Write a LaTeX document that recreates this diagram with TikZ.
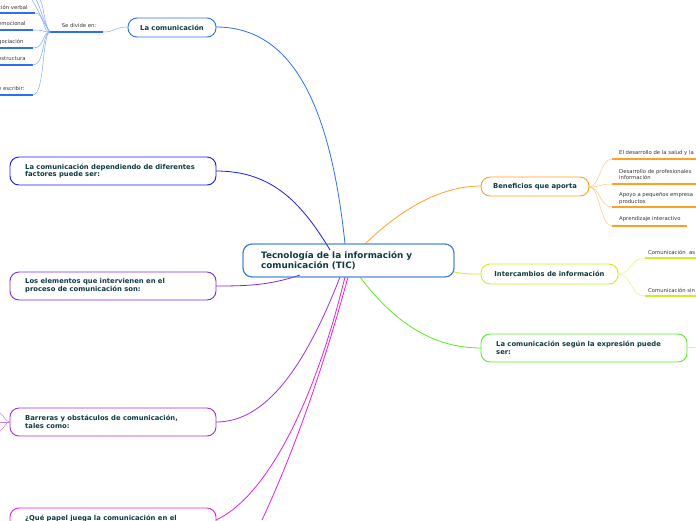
\documentclass[tikz,border=0pt]{standalone}
\usepackage{fontspec}
\setmainfont{DejaVu Sans}
\definecolor{navy}{HTML}{0E3B43}
\definecolor{cA}{HTML}{2E6FF0}
\definecolor{cB}{HTML}{1A1AEE}
\definecolor{cC}{HTML}{7A2BE0}
\definecolor{cD}{HTML}{A030E0}
\definecolor{cE}{HTML}{E020E0}
\definecolor{cF}{HTML}{FFA020}
\definecolor{cG}{HTML}{CCEE22}
\definecolor{cH}{HTML}{55EE22}
\definecolor{cI}{HTML}{3B7DD8}
\begin{document}
\begin{tikzpicture}[x=1pt,y=-1pt,
  box/.style={draw=#1,line width=0.9pt,rounded corners=9pt,fill=white,inner sep=0pt},
  btxt/.style={font=\fontsize{6.8}{7.8}\selectfont\bfseries,text=navy,align=left,anchor=west,inner sep=0pt},
  ltxt/.style={font=\fontsize{5.3}{6.3}\selectfont,text=black!80,align=left,anchor=west,inner sep=0pt},
  con/.style={draw=#1,line width=0.8pt},
  lf/.style={draw=#1!60,line width=0.5pt},
  ul/.style={draw=#1,line width=1.3pt}]
\useasboundingbox (0,0) rectangle (696,520);
\draw[box=cI] (243,244) rectangle (454,277);
\node[btxt,font=\fontsize{8.8}{10.5}\selectfont\bfseries] (c) at (261,260.5) {Tecnología de la información y\\comunicación (TIC)};
\coordinate (cc) at (345,262);
\draw[box=cA] (128,18) rectangle (216,37); \node[btxt,anchor=center] (n1) at (172,27.5) {La comunicación};
\draw[box=cB] (10,157) rectangle (216,185); \node[btxt] (n2) at (25,171) {La comunicación dependiendo de diferentes\\factores puede ser:};
\draw[box=cC] (10,272) rectangle (216,300); \node[btxt] (n3) at (25,286) {Los elementos que intervienen en el\\proceso de comunicación son:};
\draw[box=cD] (10,408) rectangle (216,436); \node[btxt] (n4) at (25,422) {Barreras y obstáculos de comunicación,\\tales como:};
\draw[box=cE] (10,508) rectangle (216,540); \node[btxt] (n5) at (25,522) {¿Qué papel juega la comunicación en el\\};
\draw[box=cF] (481,177) rectangle (589,196); \node[btxt,anchor=center] (r1) at (535,186.5) {Beneficios que aporta};
\draw[box=cG] (481,264) rectangle (618,284); \node[btxt,anchor=center] (r2) at (549.5,274) {Intercambios de información};
\draw[box=cH] (481,334) rectangle (687,362); \node[btxt] (r3) at (496,348) {La comunicación según la expresión puede\\ser:};
\draw[con=cA] (cc) ++(0,-18) .. controls (330,100) and (290,27) .. (216,27);
\draw[con=cB] (330,250) .. controls (300,200) and (270,171) .. (216,171);
\draw[con=cC] (300,275) .. controls (270,285) and (250,286) .. (216,286);
\draw[con=cD] (340,277) .. controls (300,380) and (260,422) .. (216,422);
\draw[con=cE] (345,277) .. controls (310,420) and (260,500) .. (216,520);
\draw[con=cE] (348,277) .. controls (320,380) and (290,460) .. (262,520);
\draw[con=cF] (365,244) .. controls (400,210) and (440,186) .. (481,186);
\draw[con=cG] (454,272) .. controls (465,274) and (470,274) .. (481,274);
\draw[con=cH] (360,277) .. controls (400,330) and (440,348) .. (481,348);
\draw[box=cI,fill=none] (243,244) rectangle (454,277);
\node[ltxt,anchor=center] (sd) at (79,26) {Se divide en:};
\draw[ul=cA] (50,32) -- (103,32);
\draw[lf=cA] (103,32) .. controls (115,32) and (115,27) .. (128,27);
\coordinate (hub) at (50,32);
\foreach \y/\t/\e in {13/ción verbal/35, 30/emocional/33, 48/gociación/33, 65/estructura/33, 95/e escribir:/33}{
  \draw[ul=cA] (0,\y) -- (\e,\y);
  \node[ltxt] at (-2,\y-6) {\t};
  \draw[lf=cA] (hub) .. controls (42,32) and (45,\y) .. (\e,\y);
}
\foreach \x in {36,40,44}{\draw[lf=cA] (hub) .. controls (44,25) and (\x,5) .. (\x-4,0);}
\foreach \d in {-3,0,3}{\draw[lf=cD] (10,422) .. controls (5,422) and (5,422+\d*2) .. (0,422+\d*3);}
\foreach \y/\e in {159/696,184/696,207/696,226/687}{
  \draw[ul=cF] (612,\y) -- (\e,\y);
  \draw[lf=cF] (589,187) .. controls (600,187) and (600,\y) .. (612,\y);
}
\node[ltxt] at (619,153) {El desarrollo de la salud y la};
\node[ltxt] at (619,174.5) {Desarrollo de profesionales\\información};
\node[ltxt] at (619,198.5) {Apoyo a pequeños empresa\\productos};
\node[ltxt] at (619,219) {Aprendizaje interactivo};
\foreach \y in {258,296}{
  \draw[ul=cG] (645,\y) -- (696,\y);
  \draw[lf=cG] (618,274) .. controls (632,274) and (630,\y) .. (645,\y);
}
\node[ltxt] at (648,252) {Comunicación\ \ as};
\node[ltxt] at (648,290) {Comunicación sin};
\draw[lf=cH] (687,348) -- (696,347);
\end{tikzpicture}
\end{document}
